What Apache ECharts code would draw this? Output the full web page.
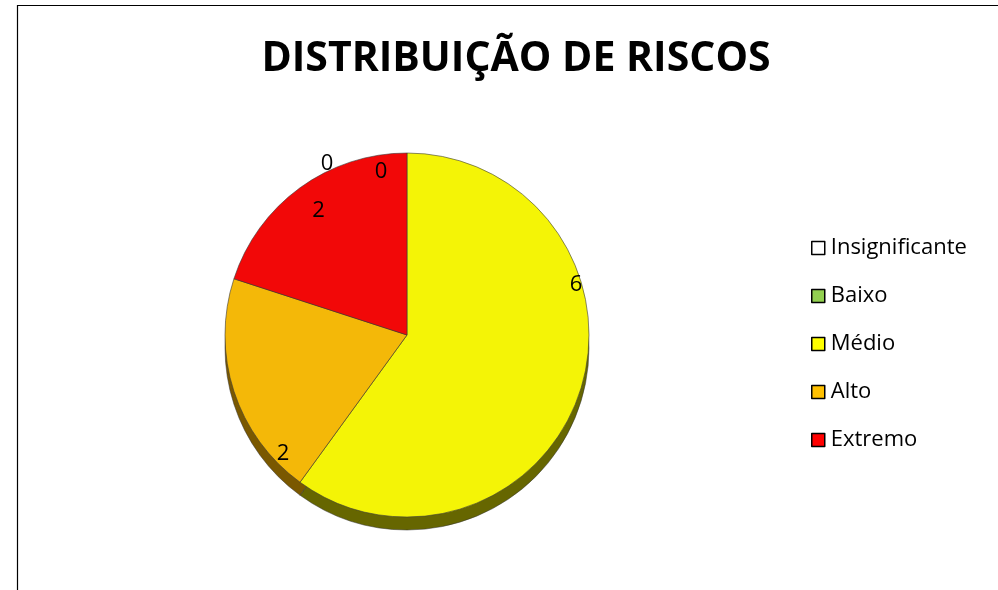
<!DOCTYPE html>
<html>
<head>
<meta charset="utf-8">
<script src="https://cdn.jsdelivr.net/npm/echarts@6/dist/echarts.min.js"></script>
<style>
html,body{margin:0;padding:0;background:#fff;}
#chart{width:998px;height:590px;}
</style>
</head>
<body>
<div id="chart"></div>
<script>
var categories = ['Insignificante', 'Baixo', 'Médio', 'Alto', 'Extremo'];
var values = [0, 0, 6, 2, 2];
var legendColors = ['#FFFFFF', '#92D050', '#FFFF00', '#FFC000', '#FF0000'];
var sliceColors = ['#FFFFFF', '#92D050', '#F4F406', '#F4B808', '#F20808'];
var sideColors = ['#888888', '#4a6a28', '#666600', '#7A5800', '#7A0404'];

var chart = echarts.init(document.getElementById('chart'));
var C = [407, 335];
var R = 182;
var labelShift = [[-26, -13], [-80, -21], [26, -97], [19, 72], [0, -3]];

function mk(colors) {
  return categories.map(function (c, i) {
    return { name: c, value: values[i], itemStyle: { color: colors[i] } };
  });
}

chart.setOption({
  animation: false,
  title: {
    text: 'DISTRIBUIÇÃO DE RISCOS',
    left: 511, top: 34, textAlign: 'center',
    textStyle: { fontFamily: 'Open Sans', fontWeight: 'bold', fontSize: 41, color: '#000' }
  },
  graphic: [{
    type: 'rect', shape: { x: 17.5, y: 5.5, width: 1000, height: 600 },
    style: { fill: 'none', stroke: '#000', lineWidth: 1.2 }, silent: true
  }],
  legend: {
    orient: 'vertical', left: 806, top: 231,
    itemWidth: 13, itemHeight: 13, itemGap: 24,
    icon: 'rect',
    selectedMode: false,
    textStyle: { fontFamily: 'Open Sans', fontSize: 22, color: '#000', lineHeight: 24, padding: [0, 0, 0, 1] },
    data: categories.map(function (c, i) {
      return { name: c, itemStyle: { color: legendColors[i], borderColor: '#000', borderWidth: 1.5 } };
    })
  },
  series: [
    {
      type: 'pie', name: 'side', center: [C[0], C[1] + 13], radius: R,
      startAngle: 90, silent: true, z: 1,
      label: { show: false }, labelLine: { show: false },
      itemStyle: { borderColor: '#333', borderWidth: 0.5 },
      data: mk(sideColors)
    },
    {
      type: 'pie', name: 'top', center: C, radius: R,
      startAngle: 90, silent: true, z: 2,
      label: { show: false }, labelLine: { show: false },
      itemStyle: { borderColor: '#3a3a3a', borderWidth: 0.6 },
      data: mk(sliceColors)
    },
    {
      type: 'pie', name: 'labels', center: C, radius: [R * 0.62, R],
      startAngle: 90, silent: true, z: 3,
      itemStyle: { color: 'rgba(0,0,0,0)', borderWidth: 0 },
      label: {
        show: true, position: 'inside', formatter: '{c}',
        fontFamily: 'Open Sans', fontSize: 22, color: '#000'
      },
      labelLine: { show: false },
      labelLayout: function (p) {
        var s = labelShift[p.dataIndex];
        return { dx: s[0], dy: s[1] };
      },
      data: categories.map(function (c, i) {
        return { name: c, value: values[i] };
      })
    }
  ]
});
</script>
</body>
</html>
